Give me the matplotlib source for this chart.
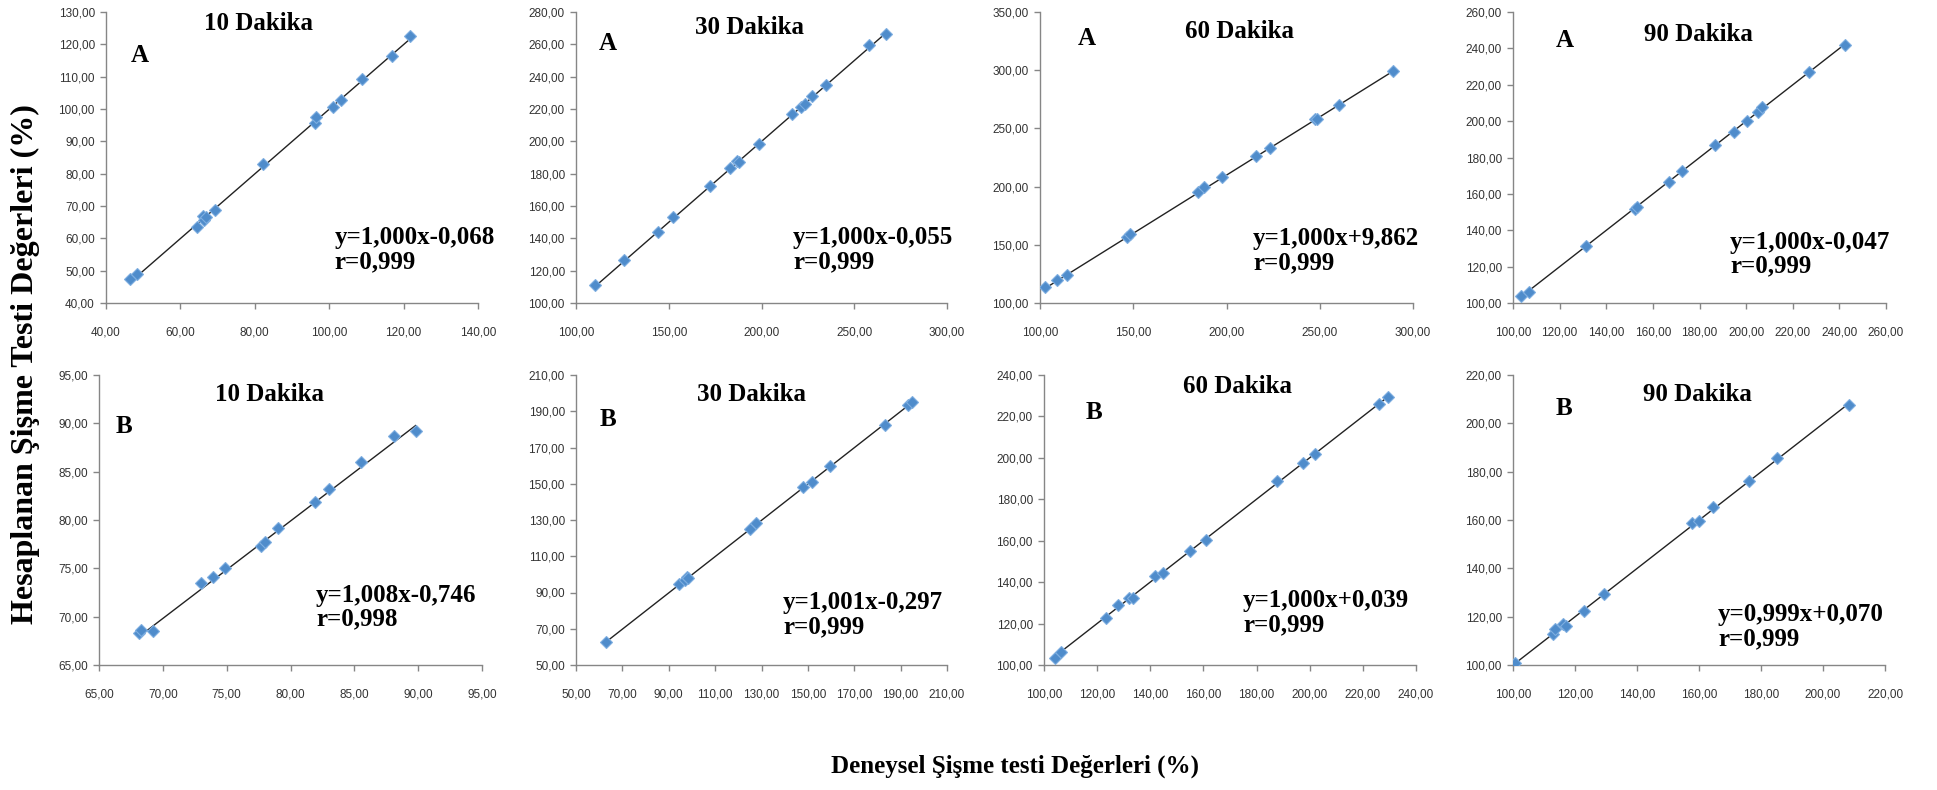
import numpy as np
import matplotlib
matplotlib.use("Agg")
import matplotlib.pyplot as plt
from matplotlib.ticker import FuncFormatter

# panel titles / labels
times = ["10 Dakika", "30 Dakika", "60 Dakika", "90 Dakika"]
groups = ["A", "B"]

a10_x = [46.4, 48.4, 64.4, 66.0, 66.3, 67.0, 69.3, 82.3, 96.1, 96.4, 100.9, 103.3, 108.8, 116.9, 121.6]
a10_y = [47.3, 49.1, 63.5, 66.9, 65.6, 66.5, 68.7, 83.0, 95.8, 97.5, 100.6, 102.8, 109.4, 116.5, 122.5]
a30_x = [110.2, 125.9, 144.2, 152.4, 172.5, 182.9, 186.9, 188.0, 198.7, 216.2, 221.5, 223.3, 227.3, 235.0, 258.0, 267.3]
a30_y = [111.4, 126.9, 144.2, 152.9, 172.3, 183.3, 187.8, 187.4, 198.4, 217.0, 221.5, 223.0, 227.9, 234.9, 259.3, 266.4]
a60_x = [102.7, 109.3, 114.5, 146.9, 148.5, 184.9, 187.9, 197.8, 215.7, 223.4, 247.2, 248.4, 260.1, 289.3]
a60_y = [113.5, 120.1, 124.4, 157.0, 159.3, 195.2, 199.5, 208.1, 226.7, 233.3, 257.7, 258.5, 270.0, 299.3]
a90_x = [103.3, 106.7, 131.5, 152.3, 153.3, 166.9, 172.6, 186.7, 194.6, 200.3, 205.0, 207.0, 226.8, 242.3]
a90_y = [104.1, 106.1, 131.3, 151.6, 152.7, 166.4, 172.4, 186.6, 194.0, 199.9, 205.1, 207.5, 226.8, 241.6]

b10_x = [68.1, 68.3, 69.2, 73.0, 73.9, 74.9, 77.7, 78.0, 79.0, 81.9, 83.0, 85.5, 88.1, 89.8]
b10_y = [68.3, 68.6, 68.5, 73.5, 74.1, 75.0, 77.3, 77.7, 79.2, 81.9, 83.2, 86.0, 88.7, 89.2]
b30_x = [62.9, 94.4, 97.0, 97.7, 98.4, 125.0, 127.8, 147.9, 151.8, 159.7, 183.4, 193.2, 195.1]
b30_y = [62.5, 94.5, 96.9, 98.7, 97.8, 124.9, 128.2, 148.0, 151.1, 160.0, 182.4, 193.4, 194.9]
b60_x = [104.1, 106.3, 123.2, 128.0, 132.0, 133.4, 141.9, 144.7, 155.0, 160.9, 187.6, 197.3, 202.0, 226.1, 229.4]
b60_y = [103.5, 106.1, 122.8, 129.0, 132.3, 132.5, 143.0, 144.2, 155.0, 160.3, 188.7, 197.7, 201.9, 225.8, 229.5]
b90_x = [100.8, 112.9, 113.7, 116.1, 117.0, 122.8, 129.4, 157.8, 160.0, 164.6, 176.2, 185.0, 208.4]
b90_y = [101.0, 112.7, 114.8, 117.0, 116.3, 122.5, 129.2, 158.6, 159.6, 165.5, 176.3, 185.8, 207.6]

# trend line coefficients and r
slopes = [1.000, 1.000, 1.000, 1.000, 1.008, 1.001, 1.000, 0.999]
intercepts = [-0.068, -0.055, 9.862, -0.047, -0.746, -0.297, 0.039, 0.070]
r_vals = [0.999, 0.999, 0.999, 0.999, 0.998, 0.999, 0.999, 0.999]

# axis ranges (min, max, step)
x_axes = [(40, 140, 20), (100, 300, 50), (100, 300, 50), (100, 260, 20),
          (65, 95, 5), (50, 210, 20), (100, 240, 20), (100, 220, 20)]
y_axes = [(40, 130, 10), (100, 280, 20), (100, 350, 50), (100, 260, 20),
          (65, 95, 5), (50, 210, 20), (100, 240, 20), (100, 220, 20)]

xs = [a10_x, a30_x, a60_x, a90_x, b10_x, b30_x, b60_x, b90_x]
ys = [a10_y, a30_y, a60_y, a90_y, b10_y, b30_y, b60_y, b90_y]

W, H = 1937, 790
# axes boxes in pixels: left, top, right, bottom
boxes = [(106, 12, 478, 303), (576, 12, 947, 303), (1040, 12, 1413, 303), (1513, 12, 1886, 303),
         (99, 375, 482, 665), (576, 375, 947, 665), (1044, 375, 1416, 665), (1513, 375, 1885, 665)]
# text placement in axes fraction: title, group letter, equation (first line)
title_pos = [(0.41, 0.962), (0.469, 0.948), (0.536, 0.932), (0.496, 0.924),
             (0.446, 0.934), (0.474, 0.934), (0.519, 0.959), (0.495, 0.934)]
letter_pos = [(0.09, 0.852), (0.086, 0.893), (0.126, 0.908), (0.139, 0.903),
              (0.065, 0.821), (0.086, 0.845), (0.134, 0.869), (0.137, 0.883)]
eq_pos = [(0.615, 0.244), (0.585, 0.244), (0.571, 0.240), (0.582, 0.228),
          (0.567, 0.259), (0.558, 0.234), (0.535, 0.241), (0.551, 0.193)]

serif = "Liberation Serif"
comma_fmt = FuncFormatter(lambda v, p: f"{v:.2f}".replace(".", ","))


def fmt3(v):
    return f"{v:.3f}".replace(".", ",")


fig = plt.figure(figsize=(W / 100, H / 100), dpi=100)

for i in range(8):
    l, t, r, b = boxes[i]
    ax = fig.add_axes([l / W, 1 - b / H, (r - l) / W, (b - t) / H])
    x = np.array(xs[i])
    y = np.array(ys[i])
    ax.plot(x, y, linestyle="none", marker="D", markersize=6,
            color="#4F8CCB", markeredgecolor="#7EAEE0", markeredgewidth=0.8, zorder=3)
    xl = np.array([x.min(), x.max()])
    ax.plot(xl, slopes[i] * xl + intercepts[i], color="#222222", lw=1.0, zorder=2)

    x0, x1, xs_ = x_axes[i]
    y0, y1, ys_ = y_axes[i]
    ax.set_xlim(x0, x1)
    ax.set_ylim(y0, y1)
    ax.set_xticks(np.arange(x0, x1 + 0.1, xs_))
    ax.set_yticks(np.arange(y0, y1 + 0.1, ys_))
    ax.xaxis.set_major_formatter(comma_fmt)
    ax.yaxis.set_major_formatter(comma_fmt)
    for s in ["top", "right"]:
        ax.spines[s].set_visible(False)
    for s in ["left", "bottom"]:
        ax.spines[s].set_color("#868686")
        ax.spines[s].set_linewidth(1.0)
    ax.tick_params(axis="both", colors="#868686", labelcolor="#333333",
                   labelsize=8.5, length=4, width=1.0)
    ax.tick_params(axis="x", pad=13)
    ax.tick_params(axis="y", pad=4)
    for lab in ax.get_xticklabels() + ax.get_yticklabels():
        lab.set_fontfamily("Liberation Sans")

    ax.text(*title_pos[i], times[i % 4], transform=ax.transAxes, ha="center", va="center",
            fontsize=18, fontweight="bold", family=serif, clip_on=False)
    ax.text(*letter_pos[i], groups[i // 4], transform=ax.transAxes, ha="center", va="center",
            fontsize=18, fontweight="bold", family=serif)
    sign = "+" if intercepts[i] >= 0 else "-"
    eq = f"y={fmt3(slopes[i])}x{sign}{fmt3(abs(intercepts[i]))}\nr={fmt3(r_vals[i])}"
    # two-line block centred between the line positions
    ax.text(eq_pos[i][0], eq_pos[i][1] - 0.06, eq, transform=ax.transAxes, ha="left", va="center",
            fontsize=18, fontweight="bold", family=serif, linespacing=1.05, clip_on=False)

fig.text(0.013, 0.539, "Hesaplanan Şişme Testi Değerleri (%)", rotation=90, ha="center", va="center",
         fontsize=23, fontweight="bold", family=serif)
fig.text(0.524, 0.03, "Deneysel Şişme testi Değerleri (%)", ha="center", va="center",
         fontsize=18, fontweight="bold", family=serif)

fig.savefig("out.png", dpi=100)
